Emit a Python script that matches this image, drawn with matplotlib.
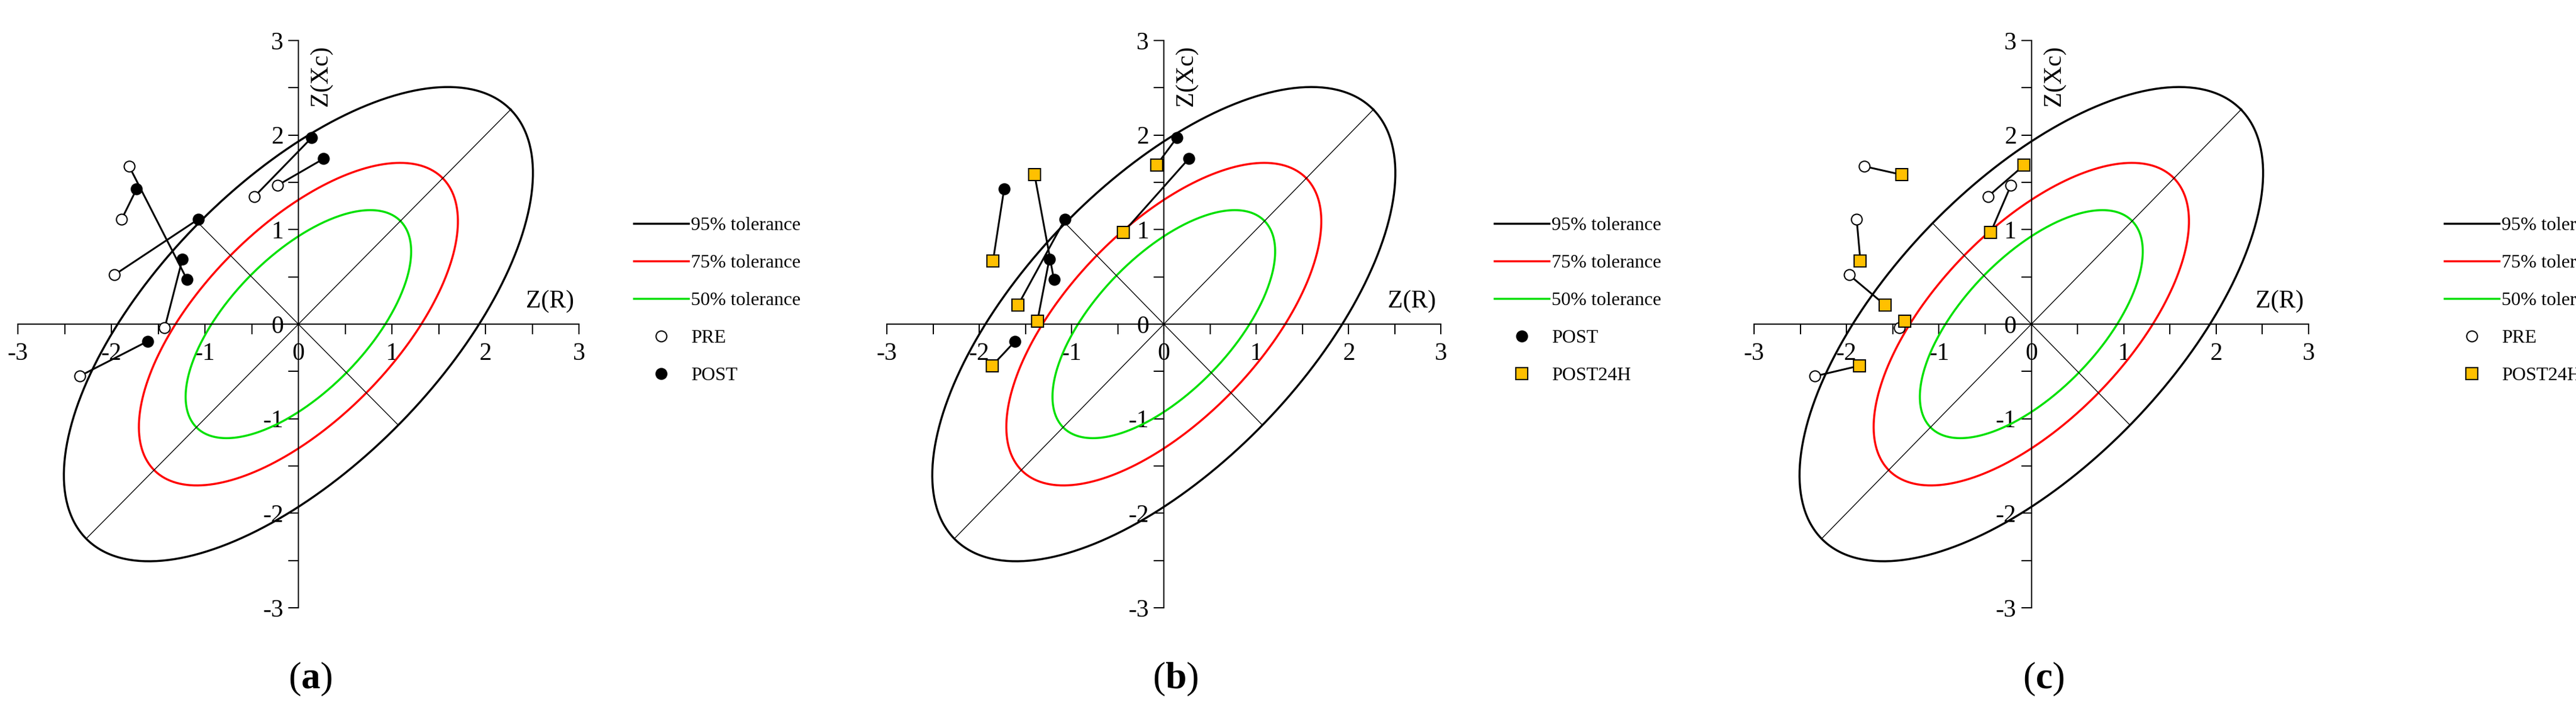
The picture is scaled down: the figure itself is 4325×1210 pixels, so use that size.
import numpy as np
import matplotlib
matplotlib.use("Agg")
import matplotlib.pyplot as plt

plt.rcParams['font.family'] = ['Liberation Serif', 'DejaVu Serif']
plt.rcParams['mathtext.fontset'] = 'custom'
plt.rcParams['mathtext.rm'] = 'Liberation Serif'
plt.rcParams['mathtext.bf'] = 'Liberation Serif:bold'

# data: 7 subjects
pre_r    = [-1.81, -1.89, -1.97, -1.43, -2.34, -0.47, -0.22]
pre_xc   = [ 1.67,  1.11,  0.52, -0.04, -0.55,  1.35,  1.47]
post_r   = [-1.19, -1.73, -1.07, -1.24, -1.61,  0.14,  0.27]
post_xc  = [ 0.47,  1.43,  1.11,  0.69, -0.18,  1.97,  1.75]
p24_r    = [-1.40, -1.85, -1.58, -1.37, -1.86, -0.08, -0.44]
p24_xc   = [ 1.58,  0.67,  0.20,  0.03, -0.44,  1.68,  0.97]

tol_labels = ['95% tolerance', '75% tolerance', '50% tolerance']
tol_k = [2.448, 1.665, 1.177]
tol_colors = ['black', '#ff0000', '#00e000']
semi_major, semi_minor = 1.311, 0.617
ticks = [-3, -2, -1, 0, 1, 2, 3]
panel_labels = ['a', 'b', 'c']

W, H = 4325, 1210
fig = plt.figure(figsize=(W/100, H/100), dpi=100)

def fx(p): return p / W
def fy(p): return 1 - p / H

panels = [
    (30, 972, ('PRE', pre_r, pre_xc), ('POST', post_r, post_xc), 1050),
    (1489, 2419, ('POST', post_r, post_xc), ('POST24H', p24_r, p24_xc), 2495),
    (2945, 3876, ('PRE', pre_r, pre_xc), ('POST24H', p24_r, p24_xc), 4090),
]
styles = {
    'PRE': dict(marker='o', mfc='white', mec='black', ms=13, mew=1.5),
    'POST': dict(marker='o', mfc='black', mec='black', ms=13, mew=1.5),
    'POST24H': dict(marker='s', mfc='#ffc000', mec='black', ms=14, mew=1.5),
}
fs = 30
for i, (x0, x1, s1, s2, legx) in enumerate(panels):
    ax = fig.add_axes([fx(x0), fy(1020), fx(x1 - x0), fy(68) - fy(1020)])
    ax.set_xlim(-3, 3); ax.set_ylim(-3, 3)
    for s in ['top', 'right']:
        ax.spines[s].set_visible(False)
    ax.spines['left'].set_position('zero'); ax.spines['bottom'].set_position('zero')
    ax.spines['left'].set_linewidth(1.5); ax.spines['bottom'].set_linewidth(1.5)
    ax.set_xticks(ticks); ax.set_yticks(ticks)
    ax.set_xticks(np.arange(-3, 3.01, 0.5), minor=True)
    ax.set_yticks(np.arange(-3, 3.01, 0.5), minor=True)
    ax.tick_params(axis='x', which='both', direction='out', length=12, labelsize=fs, pad=10, width=1.5)
    ax.tick_params(axis='y', which='both', direction='out', length=12, labelsize=fs, pad=6, width=1.5)
    ax.set_xticklabels([str(t) for t in ticks])
    ax.set_yticklabels([str(t) for t in ticks])
    t = np.linspace(0, 2*np.pi, 400)
    c45 = np.cos(np.pi/4)
    for k, col, lab in zip(tol_k, tol_colors, tol_labels):
        a, b = semi_major*k, semi_minor*k
        u, v = a*np.cos(t), b*np.sin(t)
        ax.plot(c45*(u - v), c45*(u + v), color=col, lw=2.5, label=lab)
    a, b = semi_major*tol_k[0], semi_minor*tol_k[0]
    ax.plot([-a*c45, a*c45], [-a*c45, a*c45], color='black', lw=1)
    ax.plot([-b*c45, b*c45], [b*c45, -b*c45], color='black', lw=1)
    for j in range(len(pre_r)):
        ax.plot([s1[1][j], s2[1][j]], [s1[2][j], s2[2][j]], color='black', lw=2.2, zorder=3)
    ax.plot(s1[1], s1[2], ls='none', zorder=4, label=s1[0], **styles[s1[0]])
    ax.plot(s2[1], s2[2], ls='none', zorder=4, label=s2[0], **styles[s2[0]])
    ax.text(2.95, 0.12, 'Z(R)', fontsize=fs, ha='right', va='bottom')
    ax.text(0.12, 2.95, 'Z(Xc)', fontsize=fs, rotation=90, ha='left', va='top')
    fig.text(fx((x0 + x1) / 2 + 20), fy(1140), '($\\mathbf{' + panel_labels[i] + '}$)',
             fontsize=46, ha='center', va='center')
    handles, labels = ax.get_legend_handles_labels()
    fig.legend(handles, labels, loc='upper left', bbox_to_anchor=(fx(legx - 15), fy(335)),
               frameon=False, fontsize=23, handlelength=2.9, handletextpad=0.1,
               labelspacing=1.05)

fig.savefig('out.png', dpi=100)
